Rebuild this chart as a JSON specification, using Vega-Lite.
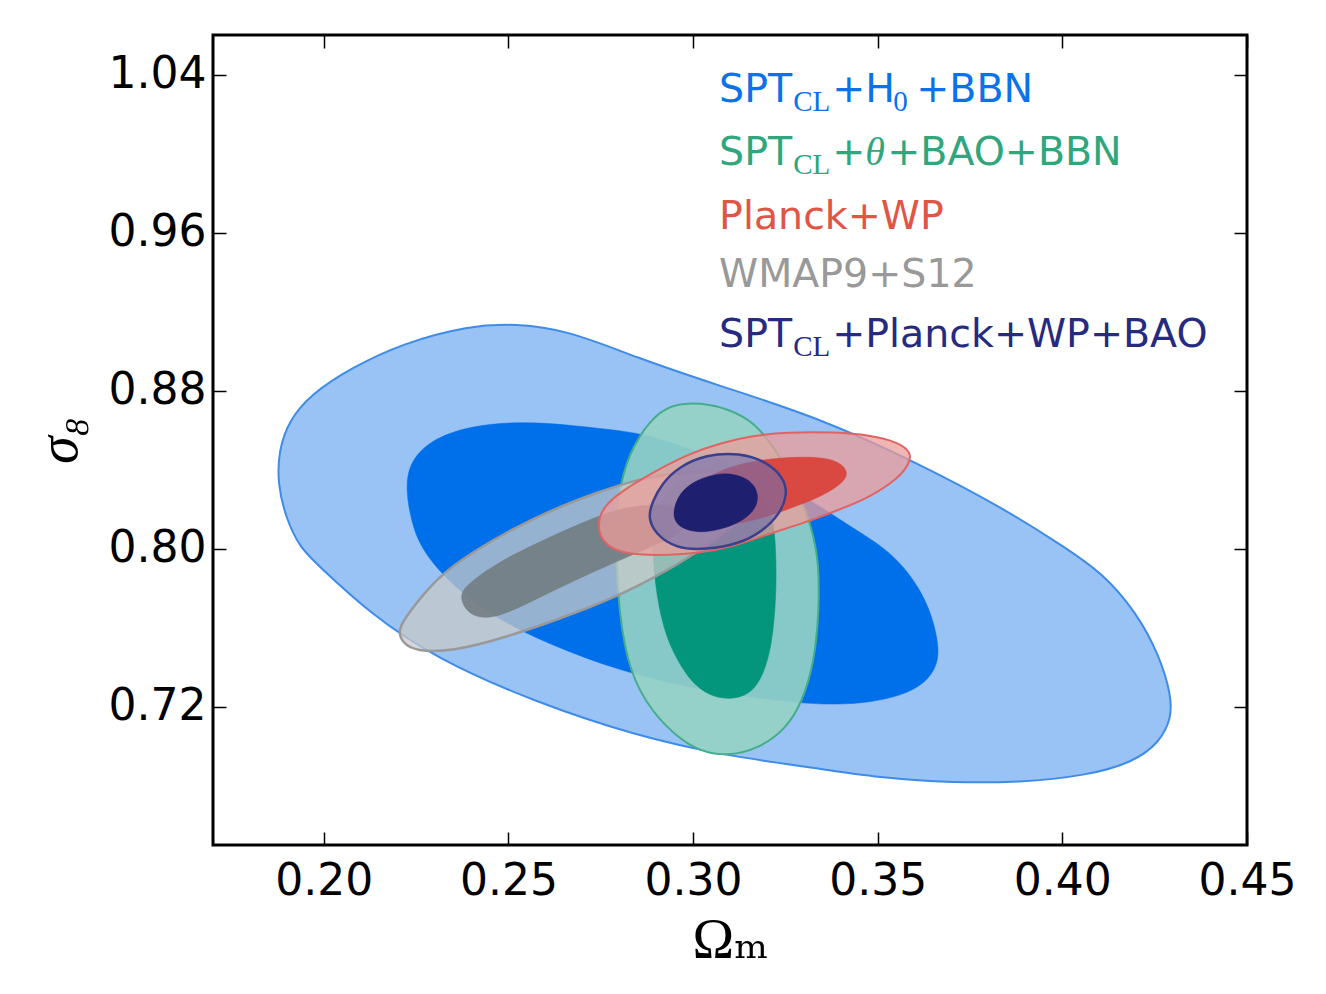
{
  "$schema": "https://vega.github.io/schema/vega-lite/v6.json",
  "width": 1034,
  "height": 810,
  "autosize": {"type": "none"},
  "padding": {"left": 213, "top": 35, "right": 79, "bottom": 149},
  "background": "white",
  "config": {
    "view": {"stroke": "black", "strokeWidth": 3},
    "axis": {"domain": false, "grid": false, "ticks": true, "tickColor": "black", "tickWidth": 1.5, "tickSize": -13,
      "labelFont": "DejaVu Sans", "labelFontSize": 44, "labelColor": "black", "labelFlush": false, "labelOverlap": false,
      "titleFont": "Liberation Serif, DejaVu Serif", "titleFontWeight": "normal", "titleColor": "black"}
  },
  "datasets": {
    "c": [
      {"g":"spt95","k":1,"om":0.1875,"s8":0.8329},{"g":"spt95","k":2,"om":0.1878,"s8":0.8496},{"g":"spt95","k":3,"om":0.1905,"s8":0.8648},{"g":"spt95","k":4,"om":0.1967,"s8":0.8785},{"g":"spt95","k":5,"om":0.2076,"s8":0.8916},{"g":"spt95","k":6,"om":0.2211,"s8":0.9038},{"g":"spt95","k":7,"om":0.2393,"s8":0.9129},{"g":"spt95","k":8,"om":0.2520,"s8":0.9139},{"g":"spt95","k":9,"om":0.2664,"s8":0.9104},{"g":"spt95","k":10,"om":0.2846,"s8":0.8967},{"g":"spt95","k":11,"om":0.3070,"s8":0.8825},{"g":"spt95","k":12,"om":0.3341,"s8":0.8663},{"g":"spt95","k":13,"om":0.3612,"s8":0.8430},{"g":"spt95","k":14,"om":0.3837,"s8":0.8208},{"g":"spt95","k":15,"om":0.4000,"s8":0.8015},{"g":"spt95","k":16,"om":0.4108,"s8":0.7879},{"g":"spt95","k":17,"om":0.4201,"s8":0.7676},{"g":"spt95","k":18,"om":0.4263,"s8":0.7458},{"g":"spt95","k":19,"om":0.4295,"s8":0.7256},{"g":"spt95","k":20,"om":0.4295,"s8":0.7140},{"g":"spt95","k":21,"om":0.4263,"s8":0.7018},{"g":"spt95","k":22,"om":0.4190,"s8":0.6917},{"g":"spt95","k":23,"om":0.4065,"s8":0.6851},{"g":"spt95","k":24,"om":0.3883,"s8":0.6816},{"g":"spt95","k":25,"om":0.3702,"s8":0.6816},{"g":"spt95","k":26,"om":0.3523,"s8":0.6836},{"g":"spt95","k":27,"om":0.3341,"s8":0.6887},{"g":"spt95","k":28,"om":0.3084,"s8":0.6953},{"g":"spt95","k":29,"om":0.2846,"s8":0.7053},{"g":"spt95","k":30,"om":0.2575,"s8":0.7221},{"g":"spt95","k":31,"om":0.2304,"s8":0.7443},{"g":"spt95","k":32,"om":0.2122,"s8":0.7676},{"g":"spt95","k":33,"om":0.1986,"s8":0.7914},{"g":"spt95","k":34,"om":0.1935,"s8":0.8005},{"g":"spt95","k":35,"om":0.1897,"s8":0.8157},
      {"g":"spt68","k":1,"om":0.2222,"s8":0.8294},{"g":"spt68","k":2,"om":0.2230,"s8":0.8430},{"g":"spt68","k":3,"om":0.2285,"s8":0.8547},{"g":"spt68","k":4,"om":0.2393,"s8":0.8623},{"g":"spt68","k":5,"om":0.2556,"s8":0.8648},{"g":"spt68","k":6,"om":0.2753,"s8":0.8607},{"g":"spt68","k":7,"om":0.2875,"s8":0.8582},{"g":"spt68","k":8,"om":0.3019,"s8":0.8486},{"g":"spt68","k":9,"om":0.3214,"s8":0.8359},{"g":"spt68","k":10,"om":0.3341,"s8":0.8218},{"g":"spt68","k":11,"om":0.3431,"s8":0.8106},{"g":"spt68","k":12,"om":0.3523,"s8":0.8000},{"g":"spt68","k":13,"om":0.3585,"s8":0.7879},{"g":"spt68","k":14,"om":0.3640,"s8":0.7712},{"g":"spt68","k":15,"om":0.3667,"s8":0.7509},{"g":"spt68","k":16,"om":0.3661,"s8":0.7408},{"g":"spt68","k":17,"om":0.3631,"s8":0.7322},{"g":"spt68","k":18,"om":0.3566,"s8":0.7256},{"g":"spt68","k":19,"om":0.3477,"s8":0.7221},{"g":"spt68","k":20,"om":0.3388,"s8":0.7211},{"g":"spt68","k":21,"om":0.3295,"s8":0.7216},{"g":"spt68","k":22,"om":0.3070,"s8":0.7266},{"g":"spt68","k":23,"om":0.2846,"s8":0.7357},{"g":"spt68","k":24,"om":0.2664,"s8":0.7474},{"g":"spt68","k":25,"om":0.2482,"s8":0.7625},{"g":"spt68","k":26,"om":0.2347,"s8":0.7813},{"g":"spt68","k":27,"om":0.2266,"s8":0.7990},{"g":"spt68","k":28,"om":0.2238,"s8":0.8127},
      {"g":"bao95","k":1,"om":0.3016,"s8":0.8739},{"g":"bao95","k":2,"om":0.3098,"s8":0.8708},{"g":"bao95","k":3,"om":0.3171,"s8":0.8633},{"g":"bao95","k":4,"om":0.3225,"s8":0.8496},{"g":"bao95","k":5,"om":0.3279,"s8":0.8329},{"g":"bao95","k":6,"om":0.3322,"s8":0.8106},{"g":"bao95","k":7,"om":0.3341,"s8":0.7929},{"g":"bao95","k":8,"om":0.3341,"s8":0.7676},{"g":"bao95","k":9,"om":0.3328,"s8":0.7423},{"g":"bao95","k":10,"om":0.3295,"s8":0.7221},{"g":"bao95","k":11,"om":0.3252,"s8":0.7089},{"g":"bao95","k":12,"om":0.3179,"s8":0.6988},{"g":"bao95","k":13,"om":0.3089,"s8":0.6947},{"g":"bao95","k":14,"om":0.3016,"s8":0.6978},{"g":"bao95","k":15,"om":0.2962,"s8":0.7039},{"g":"bao95","k":16,"om":0.2889,"s8":0.7170},{"g":"bao95","k":17,"om":0.2827,"s8":0.7373},{"g":"bao95","k":18,"om":0.2799,"s8":0.7676},{"g":"bao95","k":19,"om":0.2791,"s8":0.7990},{"g":"bao95","k":20,"om":0.2794,"s8":0.8157},{"g":"bao95","k":21,"om":0.2802,"s8":0.8329},{"g":"bao95","k":22,"om":0.2835,"s8":0.8521},{"g":"bao95","k":23,"om":0.2900,"s8":0.8688},{"g":"bao95","k":24,"om":0.2957,"s8":0.8734},
      {"g":"bao68","k":1,"om":0.3057,"s8":0.8369},{"g":"bao68","k":2,"om":0.3138,"s8":0.8344},{"g":"bao68","k":3,"om":0.3192,"s8":0.8268},{"g":"bao68","k":4,"om":0.3220,"s8":0.8142},{"g":"bao68","k":5,"om":0.3225,"s8":0.7939},{"g":"bao68","k":6,"om":0.3225,"s8":0.7762},{"g":"bao68","k":7,"om":0.3214,"s8":0.7509},{"g":"bao68","k":8,"om":0.3187,"s8":0.7342},{"g":"bao68","k":9,"om":0.3152,"s8":0.7261},{"g":"bao68","k":10,"om":0.3103,"s8":0.7236},{"g":"bao68","k":11,"om":0.3049,"s8":0.7251},{"g":"bao68","k":12,"om":0.3003,"s8":0.7312},{"g":"bao68","k":13,"om":0.2970,"s8":0.7393},{"g":"bao68","k":14,"om":0.2927,"s8":0.7544},{"g":"bao68","k":15,"om":0.2900,"s8":0.7762},{"g":"bao68","k":16,"om":0.2889,"s8":0.8015},{"g":"bao68","k":17,"om":0.2894,"s8":0.8192},{"g":"bao68","k":18,"om":0.2935,"s8":0.8304},{"g":"bao68","k":19,"om":0.2989,"s8":0.8354},
      {"g":"wmap95","k":1,"om":0.2200,"s8":0.7590},{"g":"wmap95","k":2,"om":0.2230,"s8":0.7676},{"g":"wmap95","k":3,"om":0.2304,"s8":0.7848},{"g":"wmap95","k":4,"om":0.2393,"s8":0.7975},{"g":"wmap95","k":5,"om":0.2575,"s8":0.8167},{"g":"wmap95","k":6,"om":0.2753,"s8":0.8294},{"g":"wmap95","k":7,"om":0.2854,"s8":0.8354},{"g":"wmap95","k":8,"om":0.2989,"s8":0.8395},{"g":"wmap95","k":9,"om":0.3125,"s8":0.8385},{"g":"wmap95","k":10,"om":0.3180,"s8":0.8319},{"g":"wmap95","k":11,"om":0.3175,"s8":0.8243},{"g":"wmap95","k":12,"om":0.3125,"s8":0.8142},{"g":"wmap95","k":13,"om":0.3035,"s8":0.8005},{"g":"wmap95","k":14,"om":0.2846,"s8":0.7798},{"g":"wmap95","k":15,"om":0.2664,"s8":0.7661},{"g":"wmap95","k":16,"om":0.2482,"s8":0.7544},{"g":"wmap95","k":17,"om":0.2347,"s8":0.7480},{"g":"wmap95","k":18,"om":0.2250,"s8":0.7480},{"g":"wmap95","k":19,"om":0.2212,"s8":0.7524},
      {"g":"wmap68","k":1,"om":0.2366,"s8":0.7747},{"g":"wmap68","k":2,"om":0.2382,"s8":0.7813},{"g":"wmap68","k":3,"om":0.2474,"s8":0.7934},{"g":"wmap68","k":4,"om":0.2575,"s8":0.8025},{"g":"wmap68","k":5,"om":0.2691,"s8":0.8127},{"g":"wmap68","k":6,"om":0.2827,"s8":0.8223},{"g":"wmap68","k":7,"om":0.2943,"s8":0.8223},{"g":"wmap68","k":8,"om":0.2989,"s8":0.8167},{"g":"wmap68","k":9,"om":0.2970,"s8":0.8081},{"g":"wmap68","k":10,"om":0.2924,"s8":0.8040},{"g":"wmap68","k":11,"om":0.2729,"s8":0.7884},{"g":"wmap68","k":12,"om":0.2583,"s8":0.7752},{"g":"wmap68","k":13,"om":0.2469,"s8":0.7646},{"g":"wmap68","k":14,"om":0.2398,"s8":0.7651},
      {"g":"planck95","k":1,"om":0.2740,"s8":0.8106},{"g":"planck95","k":2,"om":0.2753,"s8":0.8208},{"g":"planck95","k":3,"om":0.2808,"s8":0.8294},{"g":"planck95","k":4,"om":0.2900,"s8":0.8395},{"g":"planck95","k":5,"om":0.2989,"s8":0.8481},{"g":"planck95","k":6,"om":0.3079,"s8":0.8537},{"g":"planck95","k":7,"om":0.3160,"s8":0.8572},{"g":"planck95","k":8,"om":0.3252,"s8":0.8590},{"g":"planck95","k":9,"om":0.3388,"s8":0.8590},{"g":"planck95","k":10,"om":0.3477,"s8":0.8575},{"g":"planck95","k":11,"om":0.3555,"s8":0.8540},{"g":"planck95","k":12,"om":0.3592,"s8":0.8486},{"g":"planck95","k":13,"om":0.3585,"s8":0.8430},{"g":"planck95","k":14,"om":0.3558,"s8":0.8359},{"g":"planck95","k":15,"om":0.3477,"s8":0.8258},{"g":"planck95","k":16,"om":0.3388,"s8":0.8192},{"g":"planck95","k":17,"om":0.3295,"s8":0.8127},{"g":"planck95","k":18,"om":0.3206,"s8":0.8076},{"g":"planck95","k":19,"om":0.3117,"s8":0.8015},{"g":"planck95","k":20,"om":0.3016,"s8":0.7975},{"g":"planck95","k":21,"om":0.2900,"s8":0.7965},{"g":"planck95","k":22,"om":0.2808,"s8":0.7975},{"g":"planck95","k":23,"om":0.2758,"s8":0.8025},
      {"g":"planck68","k":1,"om":0.3016,"s8":0.8344},{"g":"planck68","k":2,"om":0.3098,"s8":0.8415},{"g":"planck68","k":3,"om":0.3179,"s8":0.8450},{"g":"planck68","k":4,"om":0.3287,"s8":0.8466},{"g":"planck68","k":5,"om":0.3369,"s8":0.8460},{"g":"planck68","k":6,"om":0.3410,"s8":0.8420},{"g":"planck68","k":7,"om":0.3420,"s8":0.8369},{"g":"planck68","k":8,"om":0.3396,"s8":0.8319},{"g":"planck68","k":9,"om":0.3341,"s8":0.8258},{"g":"planck68","k":10,"om":0.3260,"s8":0.8202},{"g":"planck68","k":11,"om":0.3192,"s8":0.8157},{"g":"planck68","k":12,"om":0.3125,"s8":0.8127},{"g":"planck68","k":13,"om":0.3057,"s8":0.8116},{"g":"planck68","k":14,"om":0.3011,"s8":0.8167},
      {"g":"all95","k":1,"om":0.2878,"s8":0.8157},{"g":"all95","k":2,"om":0.2889,"s8":0.8235},{"g":"all95","k":3,"om":0.2915,"s8":0.8329},{"g":"all95","k":4,"om":0.2962,"s8":0.8415},{"g":"all95","k":5,"om":0.3035,"s8":0.8476},{"g":"all95","k":6,"om":0.3125,"s8":0.8486},{"g":"all95","k":7,"om":0.3200,"s8":0.8440},{"g":"all95","k":8,"om":0.3245,"s8":0.8359},{"g":"all95","k":9,"om":0.3256,"s8":0.8278},{"g":"all95","k":10,"om":0.3236,"s8":0.8177},{"g":"all95","k":11,"om":0.3187,"s8":0.8086},{"g":"all95","k":12,"om":0.3125,"s8":0.8025},{"g":"all95","k":13,"om":0.3035,"s8":0.7995},{"g":"all95","k":14,"om":0.2954,"s8":0.8000},{"g":"all95","k":15,"om":0.2897,"s8":0.8076},
      {"g":"all68","k":1,"om":0.2946,"s8":0.8192},{"g":"all68","k":2,"om":0.2962,"s8":0.8282},{"g":"all68","k":3,"om":0.3008,"s8":0.8349},{"g":"all68","k":4,"om":0.3079,"s8":0.8390},{"g":"all68","k":5,"om":0.3147,"s8":0.8362},{"g":"all68","k":6,"om":0.3177,"s8":0.8294},{"g":"all68","k":7,"om":0.3174,"s8":0.8208},{"g":"all68","k":8,"om":0.3135,"s8":0.8140},{"g":"all68","k":9,"om":0.3079,"s8":0.8098},{"g":"all68","k":10,"om":0.3016,"s8":0.8078},{"g":"all68","k":11,"om":0.2967,"s8":0.8104},{"g":"all68","k":12,"om":0.2950,"s8":0.8142}
    ],
    "leg": [
      {"t":"SPT","om":0.30705,"s8":1.0263,"g":"a"},{"t":"+H","om":0.33767,"s8":1.0263,"g":"a"},{"t":"+BBN","om":0.36043,"s8":1.0263,"g":"a"},
      {"t":"SPT","om":0.30705,"s8":0.9944,"g":"b"},{"t":"+","om":0.33767,"s8":0.9944,"g":"b"},{"t":"+BAO+BBN","om":0.35257,"s8":0.9944,"g":"b"},
      {"t":"Planck+WP","om":0.30705,"s8":0.9620,"g":"c"},
      {"t":"WMAP9+S12","om":0.30705,"s8":0.9322,"g":"d"},
      {"t":"SPT","om":0.30705,"s8":0.9023,"g":"e"},{"t":"+Planck+WP+BAO","om":0.33767,"s8":0.9023,"g":"e"}
    ],
    "sub": [
      {"t":"CL","om":0.3271,"s8":1.0213,"g":"a"},{"t":"0","om":0.3542,"s8":1.0213,"g":"a"},
      {"t":"CL","om":0.3271,"s8":0.9894,"g":"b"},
      {"t":"CL","om":0.3271,"s8":0.8977,"g":"e"}
    ],
    "sym": [
      {"t":"θ","om":0.3466,"s8":0.9944,"g":"b"}
    ]
  },
  "resolve": {"axis": {"x": "independent", "y": "independent"}},
  "layer": [
    {
      "data": {"name": "c"},
      "transform": [{"filter": "datum.g == 'spt95'"}],
      "mark": {"type": "line", "interpolate": "basis-closed", "fill": "#0066e6", "fillOpacity": 0.4, "stroke": "#3f8ce8", "strokeWidth": 2},
      "encoding": {
        "x": {"field": "om", "type": "quantitative", "scale": {"domain": [0.17, 0.45], "nice": false, "zero": false},
          "axis": {"orient": "bottom", "values": [0.2, 0.25, 0.3, 0.35, 0.4, 0.45], "format": ".2f", "labelPadding": 27, "title": "Ωₘ", "titleFontSize": 56, "titlePadding": 10}},
        "y": {"field": "s8", "type": "quantitative", "scale": {"domain": [0.65, 1.06], "nice": false, "zero": false},
          "axis": {"orient": "left", "values": [0.72, 0.8, 0.88, 0.96, 1.04], "format": ".2f", "labelPadding": 20, "title": "σ₈", "titleFontSize": 56, "titleFontStyle": "italic", "titlePadding": 20}},
        "order": {"field": "k", "type": "quantitative"}
      }
    },
    {
      "data": {"name": "c"},
      "transform": [{"filter": "datum.g == 'spt68'"}],
      "mark": {"type": "line", "interpolate": "basis-closed", "fill": "#006fea", "fillOpacity": 1, "stroke": "#006fea", "strokeWidth": 0.5},
      "encoding": {
        "x": {"field": "om", "type": "quantitative", "axis": {"orient": "top", "values": [0.2, 0.25, 0.3, 0.35, 0.4, 0.45], "labels": false, "title": null}},
        "y": {"field": "s8", "type": "quantitative", "axis": {"orient": "right", "values": [0.72, 0.8, 0.88, 0.96, 1.04], "labels": false, "title": null}},
        "order": {"field": "k", "type": "quantitative"}
      }
    },
    {
      "data": {"name": "c"},
      "transform": [{"filter": "datum.g == 'bao95'"}],
      "mark": {"type": "line", "interpolate": "basis-closed", "fill": "#96d3c4", "fillOpacity": 0.9, "stroke": "#45ad8c", "strokeWidth": 2},
      "encoding": {
        "x": {"field": "om", "type": "quantitative", "axis": null},
        "y": {"field": "s8", "type": "quantitative", "axis": null},
        "order": {"field": "k", "type": "quantitative"}
      }
    },
    {
      "data": {"name": "c"},
      "transform": [{"filter": "datum.g == 'bao68'"}],
      "mark": {"type": "line", "interpolate": "basis-closed", "fill": "#00937a", "fillOpacity": 0.97, "stroke": "#00937a", "strokeWidth": 0.5},
      "encoding": {
        "x": {"field": "om", "type": "quantitative", "axis": null},
        "y": {"field": "s8", "type": "quantitative", "axis": null},
        "order": {"field": "k", "type": "quantitative"}
      }
    },
    {
      "data": {"name": "c"},
      "transform": [{"filter": "datum.g == 'wmap95'"}],
      "mark": {"type": "line", "interpolate": "basis-closed", "fill": "#c8c8c8", "fillOpacity": 0.75, "stroke": "#999999", "strokeWidth": 2.5},
      "encoding": {
        "x": {"field": "om", "type": "quantitative", "axis": null},
        "y": {"field": "s8", "type": "quantitative", "axis": null},
        "order": {"field": "k", "type": "quantitative"}
      }
    },
    {
      "data": {"name": "c"},
      "transform": [{"filter": "datum.g == 'wmap68'"}],
      "mark": {"type": "line", "interpolate": "basis-closed", "fill": "#727c82", "fillOpacity": 0.9, "stroke": "#727c82", "strokeWidth": 0.5},
      "encoding": {
        "x": {"field": "om", "type": "quantitative", "axis": null},
        "y": {"field": "s8", "type": "quantitative", "axis": null},
        "order": {"field": "k", "type": "quantitative"}
      }
    },
    {
      "data": {"name": "c"},
      "transform": [{"filter": "datum.g == 'planck95'"}],
      "mark": {"type": "line", "interpolate": "basis-closed", "fill": "#ec9c9a", "fillOpacity": 0.75, "stroke": "#e06464", "strokeWidth": 2},
      "encoding": {
        "x": {"field": "om", "type": "quantitative", "axis": null},
        "y": {"field": "s8", "type": "quantitative", "axis": null},
        "order": {"field": "k", "type": "quantitative"}
      }
    },
    {
      "data": {"name": "c"},
      "transform": [{"filter": "datum.g == 'planck68'"}],
      "mark": {"type": "line", "interpolate": "basis-closed", "fill": "#d9433c", "fillOpacity": 0.95, "stroke": "#d9433c", "strokeWidth": 0.5},
      "encoding": {
        "x": {"field": "om", "type": "quantitative", "axis": null},
        "y": {"field": "s8", "type": "quantitative", "axis": null},
        "order": {"field": "k", "type": "quantitative"}
      }
    },
    {
      "data": {"name": "c"},
      "transform": [{"filter": "datum.g == 'all95'"}],
      "mark": {"type": "line", "interpolate": "basis-closed", "fill": "#7070b0", "fillOpacity": 0.6, "stroke": "#3b3f8c", "strokeWidth": 2.5},
      "encoding": {
        "x": {"field": "om", "type": "quantitative", "axis": null},
        "y": {"field": "s8", "type": "quantitative", "axis": null},
        "order": {"field": "k", "type": "quantitative"}
      }
    },
    {
      "data": {"name": "c"},
      "transform": [{"filter": "datum.g == 'all68'"}],
      "mark": {"type": "line", "interpolate": "basis-closed", "fill": "#1e1f6e", "fillOpacity": 1, "stroke": "#1e1f6e", "strokeWidth": 0.5},
      "encoding": {
        "x": {"field": "om", "type": "quantitative", "axis": null},
        "y": {"field": "s8", "type": "quantitative", "axis": null},
        "order": {"field": "k", "type": "quantitative"}
      }
    },
    {
      "data": {"name": "leg"},
      "mark": {"type": "text", "align": "left", "baseline": "alphabetic", "font": "DejaVu Sans", "fontSize": 39.5},
      "encoding": {
        "x": {"field": "om", "type": "quantitative", "axis": null},
        "y": {"field": "s8", "type": "quantitative", "axis": null},
        "text": {"field": "t"},
        "color": {"field": "g", "type": "nominal", "legend": null, "scale": {"domain": ["a", "b", "c", "d", "e"], "range": ["#0a72ea", "#2fa67c", "#e05545", "#999999", "#262a80"]}}
      }
    },
    {
      "data": {"name": "sub"},
      "mark": {"type": "text", "align": "left", "baseline": "alphabetic", "font": "Liberation Serif", "fontSize": 29},
      "encoding": {
        "x": {"field": "om", "type": "quantitative", "axis": null},
        "y": {"field": "s8", "type": "quantitative", "axis": null},
        "text": {"field": "t"},
        "color": {"field": "g", "type": "nominal", "legend": null, "scale": {"domain": ["a", "b", "c", "d", "e"], "range": ["#0a72ea", "#2fa67c", "#e05545", "#999999", "#262a80"]}}
      }
    },
    {
      "data": {"name": "sym"},
      "mark": {"type": "text", "align": "left", "baseline": "alphabetic", "font": "Liberation Serif", "fontStyle": "italic", "fontSize": 40},
      "encoding": {
        "x": {"field": "om", "type": "quantitative", "axis": null},
        "y": {"field": "s8", "type": "quantitative", "axis": null},
        "text": {"field": "t"},
        "color": {"field": "g", "type": "nominal", "legend": null, "scale": {"domain": ["a", "b", "c", "d", "e"], "range": ["#0a72ea", "#2fa67c", "#e05545", "#999999", "#262a80"]}}
      }
    }
  ]
}
